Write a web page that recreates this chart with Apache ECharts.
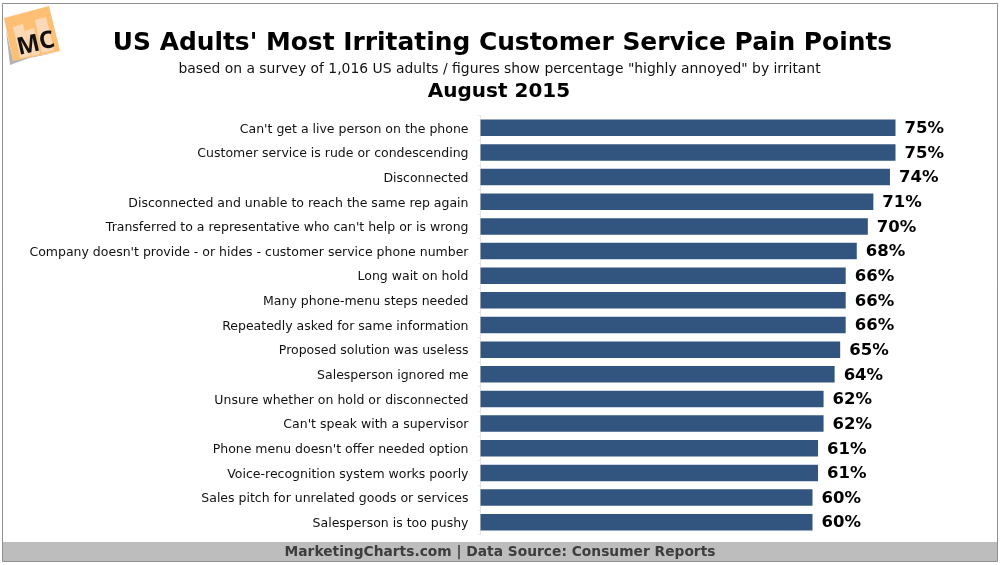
<!DOCTYPE html>
<html><head><meta charset="utf-8">
<style>html,body{margin:0;padding:0;background:#fff}#c{width:1000px;height:565px}</style>
<script src="https://cdn.jsdelivr.net/npm/echarts@6/dist/echarts.min.js"></script></head>
<body><div id="c"></div>
<script>
const categories = ["Can't get a live person on the phone","Customer service is rude or condescending","Disconnected","Disconnected and unable to reach the same rep again","Transferred to a representative who can't help or is wrong","Company doesn't provide - or hides - customer service phone number","Long wait on hold","Many phone-menu steps needed","Repeatedly asked for same information","Proposed solution was useless","Salesperson ignored me","Unsure whether on hold or disconnected","Can't speak with a supervisor","Phone menu doesn't offer needed option","Voice-recognition system works poorly","Sales pitch for unrelated goods or services","Salesperson is too pushy"];
const values = [75,75,74,71,70,68,66,66,66,65,64,62,62,61,61,60,60];
const titleText = "US Adults' Most Irritating Customer Service Pain Points";
const subtitleText = 'based on a survey of 1,016 US adults / figures show percentage "highly annoyed" by irritant';
const dateText = "August 2015";
const footerText = "MarketingCharts.com | Data Source: Consumer Reports";
const F = "DejaVu Sans";
const chart = echarts.init(document.getElementById('c'), null, {renderer:'canvas'});
chart.setOption({
  animation:false,
  backgroundColor:'#fff',
  grid:{left:480.5,top:115.5,width:498,height:419,containLabel:false},
  xAxis:{type:'value',min:0,max:90,show:false},
  yAxis:{type:'category',inverse:true,data:categories,
    axisLine:{show:true,lineStyle:{color:'#e6e6e6',width:1}},
    axisTick:{show:true,length:2,lineStyle:{color:'#e6e6e6'}},
    axisLabel:{margin:12,interval:0,formatter:'{a|{value}}',
      rich:{a:{fontFamily:F,fontSize:12.5,color:'#111',padding:[3,0,0,0]}}}},
  series:[{type:'bar',data:values,barWidth:16.5,itemStyle:{color:'#31557f'},
    label:{show:true,position:'right',distance:9,offset:[0,1],formatter:'{c}%',fontFamily:F,fontWeight:'bold',fontSize:16.5,color:'#000'}}],
  graphic:[
    {type:'rect',shape:{x:2.5,y:3.5,width:995,height:558},style:{fill:'none',stroke:'#8f8f8f',lineWidth:1},z:10},
    {type:'rect',shape:{x:3,y:542,width:994,height:19},style:{fill:'#bdbdbd'},z:1},
    {type:'text',x:500,y:552.5,style:{text:footerText,fontFamily:F,fontWeight:'bold',fontSize:13.8,fill:'#3d3d3d',align:'center',verticalAlign:'middle'},z:2},
    {type:'text',x:502.5,y:44,style:{text:titleText,fontFamily:F,fontWeight:'bold',fontSize:24.9,fill:'#000',align:'center',verticalAlign:'middle'},z:2},
    {type:'text',x:499.5,y:69.5,style:{text:subtitleText,fontFamily:F,fontSize:13.9,fill:'#111',align:'center',verticalAlign:'middle'},z:2},
    {type:'text',x:499,y:92,style:{text:dateText,fontFamily:F,fontWeight:'bold',fontSize:20,fill:'#000',align:'center',verticalAlign:'middle'},z:2},
    {type:'polygon',shape:{points:[[6,30],[13,60],[28,57],[60,52],[29,58],[10,65]]},style:{fill:'#b4b4b4'},z:1},
    {type:'polygon',shape:{points:[[4,18],[49,6],[60,51],[13,61]]},style:{fill:'#fdbf73'},z:2},
    {type:'polygon',shape:{points:[[13,27],[23,24],[31,56],[20,58]]},style:{fill:'#fcd9b6'},z:3},
    {type:'polygon',shape:{points:[[25,31],[34,28],[40,54],[32,56]]},style:{fill:'#fcd9b6'},z:3},
    {type:'polygon',shape:{points:[[35,20],[46,17],[54,50],[42,53]]},style:{fill:'#fcd9b6'},z:3},
    {type:'text',x:36,y:44,rotation:13*Math.PI/180,style:{text:'MC',fontFamily:'Open Sans',fontWeight:'bold',fontSize:24,fill:'#111',align:'center',verticalAlign:'middle'},z:4}
  ]
});
</script></body></html>
